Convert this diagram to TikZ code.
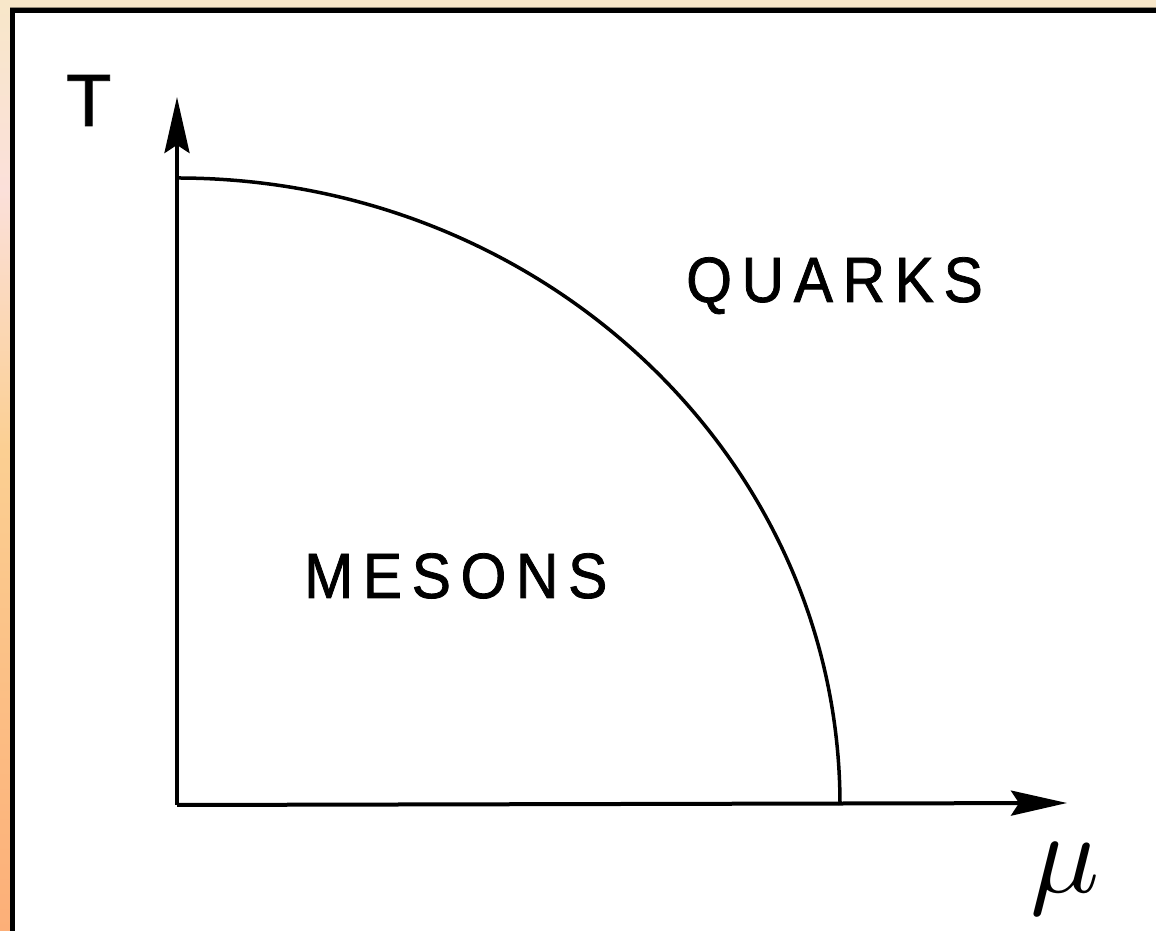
\documentclass[tikz,border=0pt]{standalone}
\usepackage{graphicx}
\usepackage{fontspec}
\usetikzlibrary{arrows.meta}
\newfontfamily\lblfont[FakeStretch=0.92,LetterSpace=15,FakeBold=1.2]{Liberation Sans}
\newfontfamily\axfont[FakeBold=1]{Liberation Sans}
\definecolor{cream}{HTML}{F8E7C9}
\definecolor{pinkish}{HTML}{FBE0DA}
\definecolor{peach}{HTML}{FBCF92}
\definecolor{orangebg}{HTML}{FCAF78}
\tikzset{
  axis/.style={line width=4pt, -{Stealth[length=56pt,width=25pt,inset=8pt]}},
  boundary/.style={line width=3.5pt},
  phase/.style={inner sep=0pt, font={\fontsize{64}{64}\selectfont\lblfont}},
}
\begin{document}
\begin{tikzpicture}[x=1pt,y=1pt]
\useasboundingbox (0,0) rectangle (1156,931);
\clip (0,0) rectangle (1156,931);
% background strips
\shade[top color=cream, bottom color=pinkish] (0,931) rectangle (10,741);
\shade[top color=pinkish, bottom color=peach] (0,741) rectangle (10,481);
\shade[top color=peach, bottom color=orangebg] (0,481) rectangle (10,0);
\fill[cream] (0,931) rectangle (1156,923);
\fill[black!40!cream] (10,923.5) rectangle (1156,922.5);
% frame
\fill[black] (10,-10) rectangle (1170,923);
\fill[white] (15,-10) rectangle (1170,918);
% axes
\coordinate (O) at (177,126);
\coordinate (Ttip) at (177,834);
\coordinate (Mtip) at (1067,128);
\draw[axis] (O) -- (Ttip);
\draw[axis] (O) -- (Mtip);
% phase boundary
\coordinate (Tc) at (177,753);
\coordinate (Mc) at (840,126);
\draw[boundary] (Tc) arc[start angle=90, end angle=0, x radius=663, y radius=627];
% labels
\node[inner sep=0pt, anchor=base west, font={\fontsize{74}{74}\selectfont\axfont}] (Tlabel) at (66,805) {T};
\node[inner sep=0pt, anchor=north west] (mulabel) at (1030,88) {\scalebox{11.5}{$\mu$}};
\node[phase, anchor=base west] (quarks) at (686,629) {QUARKS};
\node[phase, anchor=base west] (mesons) at (304,333) {MESONS};
\end{tikzpicture}
\end{document}
